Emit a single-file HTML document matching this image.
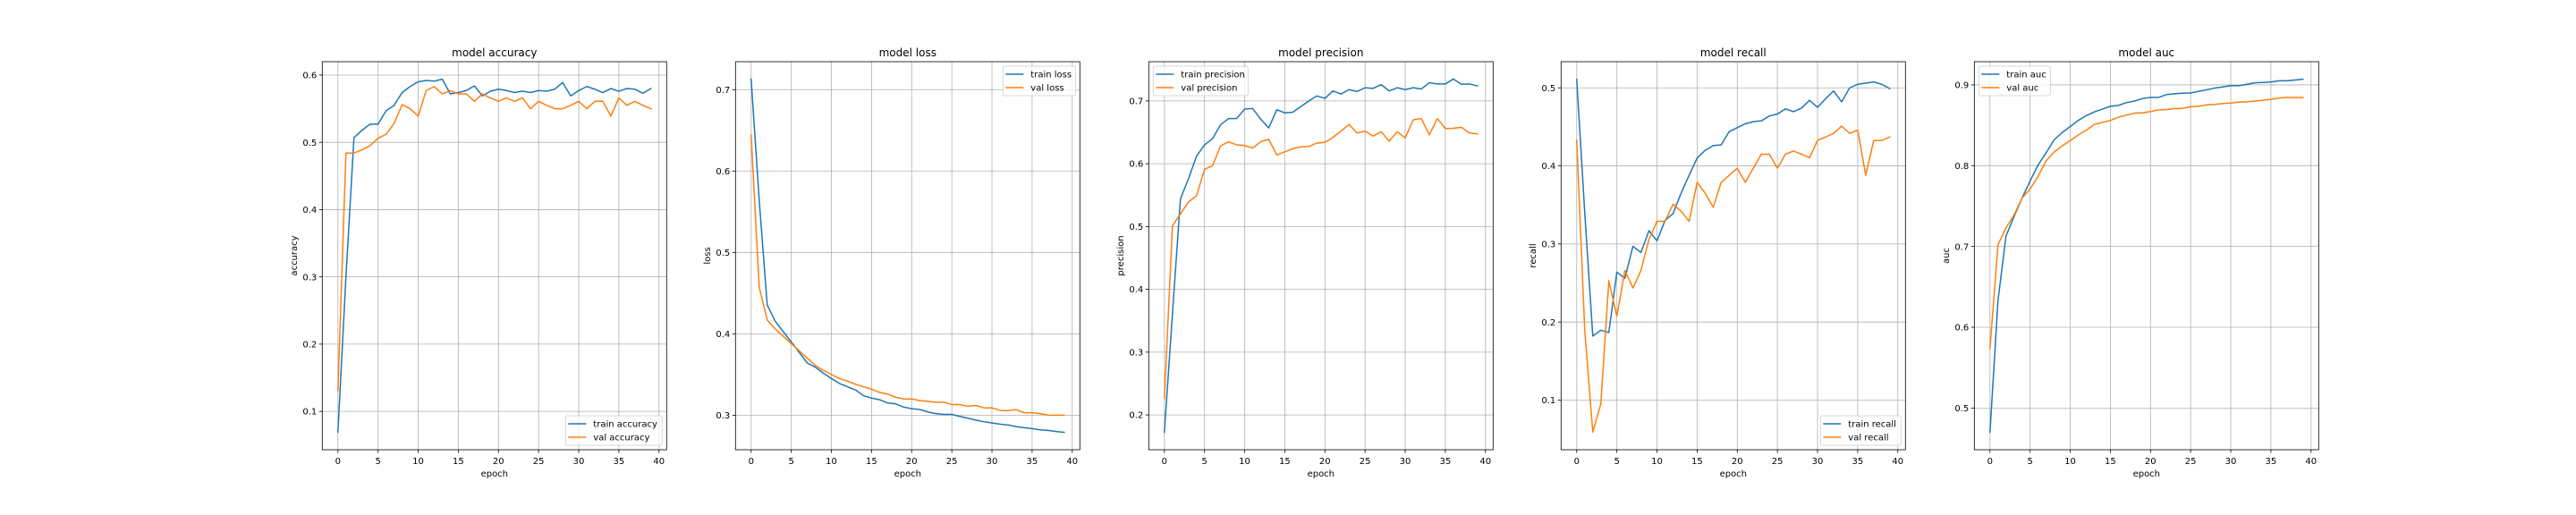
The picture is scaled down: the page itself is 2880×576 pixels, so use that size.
<!DOCTYPE html>
<html><head><meta charset="utf-8">
<style>
html,body{margin:0;padding:0;background:#fff;}
svg{display:block;font-family:"DejaVu Sans","Liberation Sans",sans-serif;}
</style></head>
<body>
<svg id="fig" width="2880" height="576" viewBox="0 0 2880 576" xmlns="http://www.w3.org/2000/svg">
<rect x="0" y="0" width="2880" height="576" fill="#fff"/>
</svg>
<script>
const epochs = Array.from({length:40},(_,i)=>i);
const xTicks = [0,5,10,15,20,25,30,35,40];

const accTrain = [0.069,0.30,0.507,0.518,0.527,0.527,0.547,0.555,0.574,0.583,0.590,0.592,0.591,0.594,0.572,0.574,0.577,0.584,0.569,0.576,0.579,0.577,0.574,0.576,0.574,0.577,0.576,0.579,0.589,0.569,0.577,0.583,0.579,0.574,0.580,0.576,0.580,0.579,0.573,0.580];
const accVal = [0.131,0.484,0.484,0.489,0.495,0.506,0.512,0.528,0.556,0.550,0.539,0.577,0.583,0.572,0.577,0.572,0.572,0.561,0.572,0.566,0.561,0.566,0.561,0.566,0.550,0.561,0.555,0.550,0.550,0.555,0.561,0.550,0.561,0.561,0.539,0.566,0.555,0.561,0.555,0.550];
const accTicks = [0.1,0.2,0.3,0.4,0.5,0.6];

const lossTrain = [0.713,0.565,0.4355,0.4154,0.4026,0.390,0.377,0.364,0.359,0.3515,0.345,0.339,0.335,0.331,0.324,0.321,0.319,0.315,0.314,0.310,0.308,0.307,0.304,0.302,0.301,0.301,0.2985,0.2963,0.294,0.292,0.2905,0.289,0.288,0.286,0.2847,0.2836,0.282,0.2814,0.280,0.279];
const lossVal = [0.644,0.4574,0.417,0.406,0.397,0.388,0.379,0.370,0.361,0.355,0.350,0.345,0.342,0.338,0.335,0.332,0.328,0.326,0.322,0.320,0.320,0.318,0.317,0.316,0.316,0.313,0.313,0.311,0.312,0.309,0.309,0.306,0.3055,0.307,0.303,0.303,0.302,0.300,0.300,0.300];
const lossTicks = [0.3,0.4,0.5,0.6,0.7];

const precTrain = [0.1725,0.36,0.544,0.576,0.612,0.630,0.640,0.662,0.672,0.672,0.687,0.688,0.671,0.657,0.686,0.681,0.682,0.691,0.700,0.708,0.704,0.716,0.711,0.718,0.715,0.721,0.720,0.726,0.716,0.721,0.718,0.721,0.719,0.729,0.727,0.727,0.735,0.7265,0.727,0.724];
const precVal = [0.226,0.501,0.520,0.539,0.549,0.591,0.597,0.6285,0.635,0.630,0.629,0.625,0.635,0.639,0.614,0.619,0.624,0.627,0.6275,0.633,0.634,0.642,0.652,0.6626,0.649,0.652,0.644,0.651,0.636,0.651,0.641,0.670,0.672,0.646,0.672,0.656,0.6565,0.658,0.649,0.6475];
const precTicks = [0.2,0.3,0.4,0.5,0.6,0.7];

const recTrain = [0.511,0.34,0.182,0.1895,0.1865,0.264,0.256,0.297,0.289,0.317,0.304,0.330,0.339,0.365,0.388,0.410,0.420,0.426,0.427,0.444,0.449,0.454,0.4566,0.4577,0.464,0.4665,0.473,0.4695,0.474,0.484,0.475,0.486,0.496,0.482,0.500,0.5046,0.506,0.5076,0.5046,0.499];
const recVal = [0.433,0.1895,0.059,0.095,0.253,0.2074,0.266,0.2436,0.266,0.306,0.329,0.329,0.351,0.342,0.329,0.379,0.365,0.347,0.379,0.388,0.397,0.379,0.397,0.415,0.415,0.397,0.415,0.419,0.415,0.4105,0.4326,0.437,0.4417,0.451,0.4417,0.446,0.388,0.4326,0.4326,0.437];
const recTicks = [0.1,0.2,0.3,0.4,0.5];

const aucTrain = [0.470,0.633,0.713,0.737,0.760,0.781,0.801,0.816,0.832,0.841,0.8485,0.856,0.862,0.8665,0.870,0.8735,0.8746,0.878,0.880,0.883,0.8845,0.8845,0.888,0.889,0.8897,0.890,0.892,0.894,0.896,0.8974,0.899,0.899,0.9007,0.9026,0.903,0.9037,0.905,0.905,0.906,0.907];
const aucVal = [0.5736,0.702,0.723,0.739,0.760,0.771,0.787,0.806,0.817,0.8246,0.831,0.838,0.844,0.851,0.8536,0.856,0.860,0.8625,0.865,0.8654,0.867,0.869,0.8695,0.8706,0.871,0.873,0.8735,0.8753,0.8757,0.877,0.8775,0.8787,0.879,0.880,0.881,0.882,0.8838,0.8845,0.8845,0.8845];
const aucTicks = [0.5,0.6,0.7,0.8,0.9];

const NS = "http://www.w3.org/2000/svg";
const fig = document.getElementById('fig');
function mk(tag, attrs, parent){
  const e = document.createElementNS(NS, tag);
  for (const k in attrs) e.setAttribute(k, attrs[k]);
  (parent||fig).appendChild(e);
  return e;
}
const TOP = 69, BOT = 503, W = 385;
const panels = [
  {key:'accuracy', left:360.3, ymin:0.043, ymax:0.6199, ticks:accTicks, train:accTrain, val:accVal, legend:'lr', tn:'train accuracy', vn:'val accuracy', lw:108},
  {key:'loss', left:822.3, ymin:0.2576, ymax:0.7343, ticks:lossTicks, train:lossTrain, val:lossVal, legend:'ur', tn:'train loss', vn:'val loss', lw:81},
  {key:'precision', left:1284.3, ymin:0.1446, ymax:0.7625, ticks:precTicks, train:precTrain, val:precVal, legend:'ul', tn:'train precision', vn:'val precision', lw:106},
  {key:'recall', left:1745.3, ymin:0.0364, ymax:0.5335, ticks:recTicks, train:recTrain, val:recVal, legend:'lr', tn:'train recall', vn:'val recall', lw:90},
  {key:'auc', left:2207.3, ymin:0.4484, ymax:0.9287, ticks:aucTicks, train:aucTrain, val:aucVal, legend:'ul', tn:'train auc', vn:'val auc', lw:80}
];
panels.forEach(p=>{
  const g = mk('g',{});
  
  
  const xs = v => p.left + (v + 1.95) / 42.9 * W;
  const ys = v => BOT - (v - p.ymin) / (p.ymax - p.ymin) * (BOT - TOP);
  // grid
  xTicks.forEach(t=>{
    const x = xs(t);
    const l = mk('line',{x1:x,x2:x,y1:TOP,y2:BOT,stroke:'#b0b0b0','stroke-width':0.8},g);
    
    
    const tk = mk('line',{x1:x,x2:x,y1:BOT,y2:BOT+3.5,stroke:'#000','stroke-width':0.8},g);
    
    
    const tx = mk('text',{x:x,y:BOT+16,'font-size':10,'text-anchor':'middle',fill:'#000'},g);
    tx.textContent = String(t);
    
    
  });
  p.ticks.forEach(t=>{
    const y = ys(t);
    const l = mk('line',{x1:p.left,x2:p.left+W,y1:y,y2:y,stroke:'#b0b0b0','stroke-width':0.8},g);
    
    
    const tk = mk('line',{x1:p.left-3.5,x2:p.left,y1:y,y2:y,stroke:'#000','stroke-width':0.8},g);
    
    
    const tx = mk('text',{x:p.left-6,y:y+3.6,'font-size':10,'text-anchor':'end',fill:'#000'},g);
    tx.textContent = t.toFixed(1);
    
    
  });
  // series
  [[p.train,'#1f77b4','train'],[p.val,'#ff7f0e','val']].forEach(([arr,c,n])=>{
    const pts = arr.map((v,i)=>xs(epochs[i]).toFixed(2)+','+ys(v).toFixed(2)).join(' ');
    const pl = mk('polyline',{points:pts,fill:'none',stroke:c,'stroke-width':1.5,'stroke-linejoin':'round','stroke-linecap':'square'},g);
    
    
  });
  // frame
  const fr = mk('rect',{x:p.left,y:TOP,width:W,height:BOT-TOP,fill:'none',stroke:'#000','stroke-width':0.8},g);
  
  
  // title & labels
  const ti = mk('text',{x:p.left+W/2,y:TOP-6,'font-size':12,'text-anchor':'middle',fill:'#000'},g);
  ti.textContent = 'model '+p.key;
  
  
  const xl = mk('text',{x:p.left+W/2,y:BOT+30,'font-size':10,'text-anchor':'middle',fill:'#000'},g);
  xl.textContent = 'epoch';
  
  
  const cy = (TOP+BOT)/2;
  const yl = mk('text',{x:0,y:0,'font-size':10,'text-anchor':'middle',fill:'#000',transform:'translate('+(p.left-28.5)+','+cy+') rotate(-90)'},g);
  yl.textContent = p.key;
  
  
  // legend
  const lh = 33;
  let lx, ly;
  if (p.legend==='lr'){ lx = p.left+W-5-p.lw; ly = BOT-5-lh; }
  else if (p.legend==='ur'){ lx = p.left+W-5-p.lw; ly = TOP+5; }
  else { lx = p.left+5; ly = TOP+5; }
  const lg = mk('g',{},g);
  
  
  mk('rect',{x:lx,y:ly,width:p.lw,height:lh,rx:2,fill:'#fff','fill-opacity':0.8,stroke:'#cccccc','stroke-width':0.8},lg);
  [[p.tn,'#1f77b4',ly+9],[p.vn,'#ff7f0e',ly+24]].forEach(([name,c,yy])=>{
    const e = mk('g',{},lg);
    
    
    mk('line',{x1:lx+3,x2:lx+23,y1:yy,y2:yy,stroke:c,'stroke-width':1.5},e);
    const t = mk('text',{x:lx+31,y:yy+3.6,'font-size':10,fill:'#000'},e);
    t.textContent = name;
  });
});
</script>
</body></html>
